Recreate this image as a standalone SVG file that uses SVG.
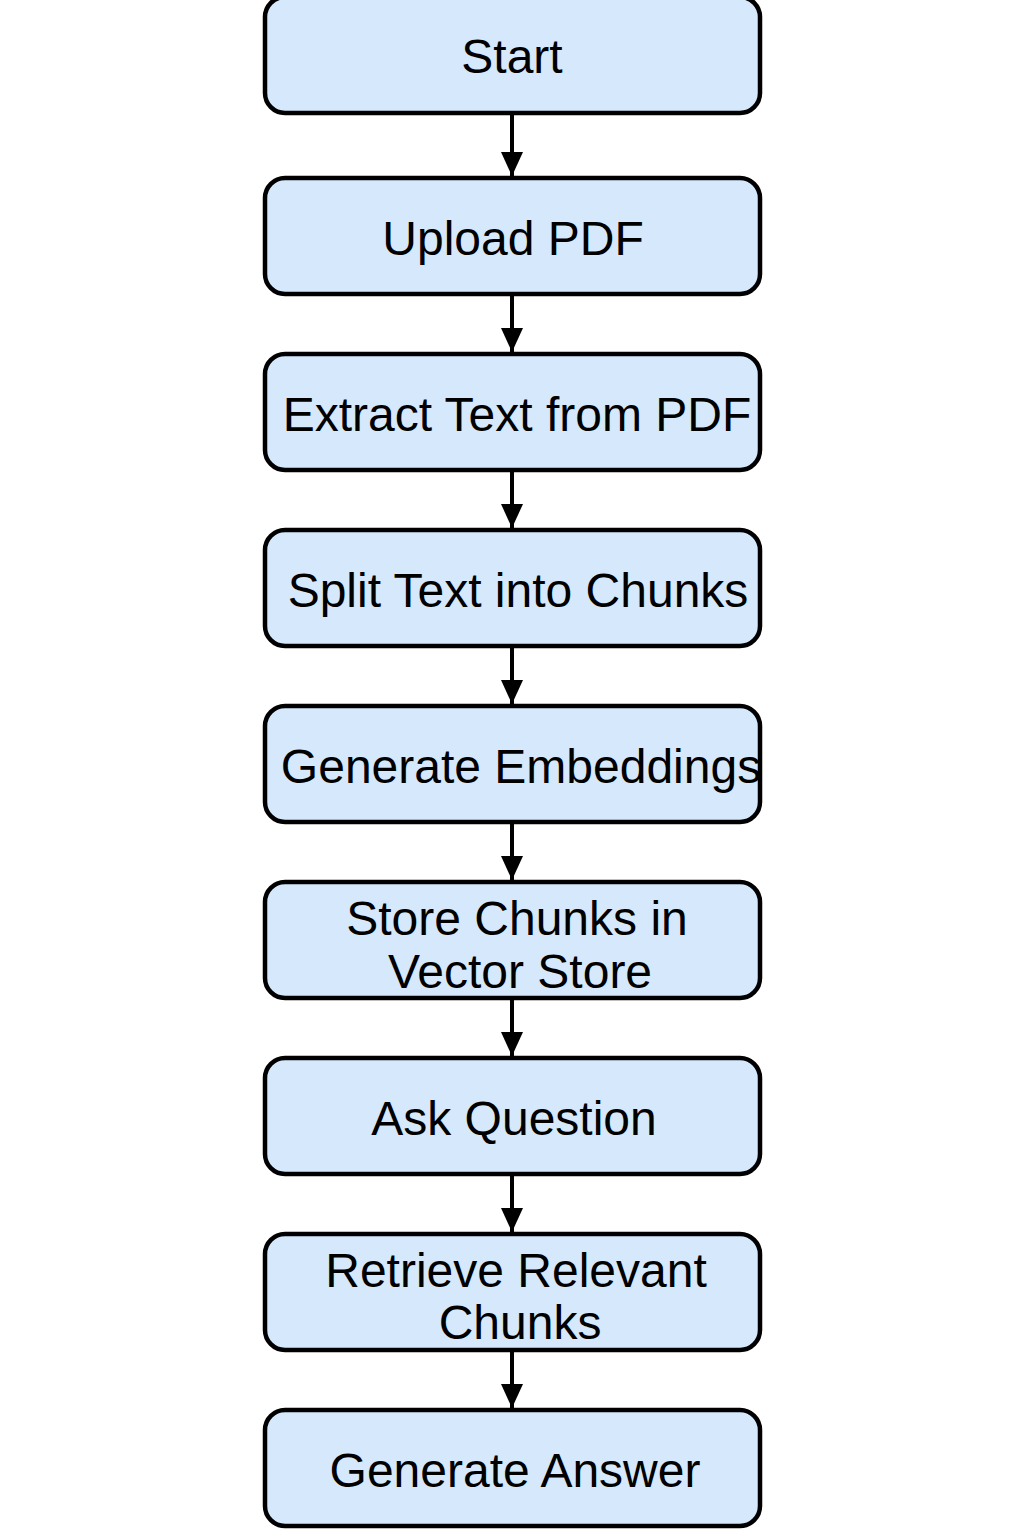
<svg xmlns="http://www.w3.org/2000/svg" width="1024" height="1536" viewBox="0 0 1024 1536">
<style>
.box{fill:#d5e8fc;stroke:#000;stroke-width:4.5}
.lbl{font-family:"Liberation Sans",Arial,sans-serif;font-size:48px;fill:#000;text-anchor:middle}
.edge{stroke:#000;stroke-width:4;fill:none}
</style>
<defs>
<marker id="ah" markerUnits="userSpaceOnUse" markerWidth="26" markerHeight="22" refX="24" refY="11" orient="auto">
<path d="M0,0 L24,11 L0,22 Z" fill="#000"/>
</marker>
</defs>
<rect width="1024" height="1536" fill="#fff"/>
<g id="connectors">
<line class="edge" x1="512" y1="114" x2="512" y2="176" marker-end="url(#ah)"/>
<line class="edge" x1="512" y1="294" x2="512" y2="352" marker-end="url(#ah)"/>
<line class="edge" x1="512" y1="470" x2="512" y2="528" marker-end="url(#ah)"/>
<line class="edge" x1="512" y1="646" x2="512" y2="704" marker-end="url(#ah)"/>
<line class="edge" x1="512" y1="822" x2="512" y2="880" marker-end="url(#ah)"/>
<line class="edge" x1="512" y1="998" x2="512" y2="1056" marker-end="url(#ah)"/>
<line class="edge" x1="512" y1="1174" x2="512" y2="1232" marker-end="url(#ah)"/>
<line class="edge" x1="512" y1="1350" x2="512" y2="1408" marker-end="url(#ah)"/>
</g>
<g id="n1"><rect class="box" x="265" y="-3" width="495" height="116" rx="20"/><text class="lbl" x="512" y="73">Start</text></g>
<g id="n2"><rect class="box" x="265" y="178" width="495" height="116" rx="20"/><text class="lbl" x="513" y="255">Upload PDF</text></g>
<g id="n3"><rect class="box" x="265" y="354" width="495" height="116" rx="20"/><text class="lbl" x="517" y="431">Extract Text from PDF</text></g>
<g id="n4"><rect class="box" x="265" y="530" width="495" height="116" rx="20"/><text class="lbl" x="518" y="607">Split Text into Chunks</text></g>
<g id="n5"><rect class="box" x="265" y="706" width="495" height="116" rx="20"/><text class="lbl" x="521" y="783">Generate Embeddings</text></g>
<g id="n6"><rect class="box" x="265" y="882" width="495" height="116" rx="20"/><text class="lbl" x="517" y="935">Store Chunks in</text><text class="lbl" x="520" y="988">Vector Store</text></g>
<g id="n7"><rect class="box" x="265" y="1058" width="495" height="116" rx="20"/><text class="lbl" x="514" y="1135">Ask Question</text></g>
<g id="n8"><rect class="box" x="265" y="1234" width="495" height="116" rx="20"/><text class="lbl" x="516" y="1287">Retrieve Relevant</text><text class="lbl" x="520" y="1339">Chunks</text></g>
<g id="n9"><rect class="box" x="265" y="1410" width="495" height="116" rx="20"/><text class="lbl" x="515" y="1487">Generate Answer</text></g>
</svg>
